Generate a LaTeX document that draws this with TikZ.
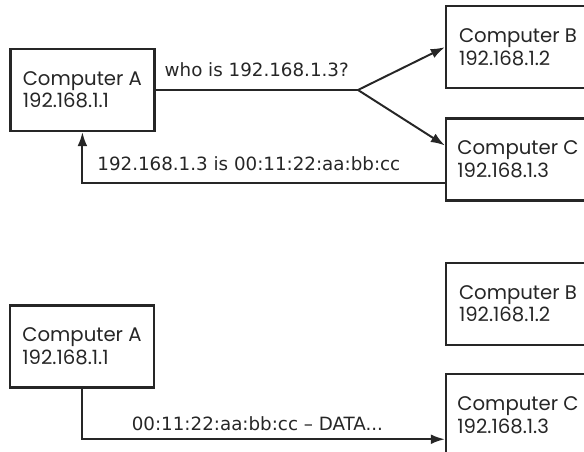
\documentclass[tikz,border=0pt]{standalone}
\usepackage{fontspec}
\setmainfont{Poppins}
\newfontfamily\msgfont{DejaVu Sans}
\usetikzlibrary{positioning,arrows.meta}

\tikzset{
  host/.style={draw=black!85, line width=1.6pt, minimum width=3.6cm, minimum height=2.05cm,
    align=left, text=black!85, font=\fontsize{14}{16}\selectfont},
  wire/.style={draw=black!85, line width=1.4pt},
  arrow/.style={wire, -{Latex[length=10pt,width=7pt]}},
  msg/.style={inner sep=0pt, text=black!85, font=\msgfont\fontsize{13}{15}\selectfont}
}

\begin{document}
\begin{tikzpicture}
\useasboundingbox (0,0) rectangle (14.6,-11.3);

% Request and reply
\node[host] (a1) at (2.06,-2.25) {Computer A\\192.168.1.1};
\node[host] (b1) at (12.95,-1.18) {Computer B\\192.168.1.2};
\node[host,below=0.7cm of b1] (c1) {Computer C\\192.168.1.3};
\coordinate (fork) at (8.95,-2.25);

\draw[wire] (a1) -- node[msg,above=9pt] (ask) {who is 192.168.1.3?} (fork);
\draw[arrow] (fork) -- (b1.west);
\draw[arrow] (fork) -- ([yshift=0.35cm]c1.west);
\draw[arrow] ([yshift=-0.58cm]c1.west) -| node[msg,pos=0.5,anchor=south west,xshift=0.35cm,yshift=7.8pt] (reply) {192.168.1.3 is 00:11:22:aa:bb:cc} (a1.south);

% Sending the data
\node[host] (a2) at (2.05,-8.66) {Computer A\\192.168.1.1};
\node[host] (b2) at (12.95,-7.6) {Computer B\\192.168.1.2};
\node[host,below=0.675cm of b2] (c2) {Computer C\\192.168.1.3};

\draw[arrow] (a2.south) |- node[msg,pos=0.75,above=5pt,xshift=-0.15cm] (data) {00:11:22:aa:bb:cc – DATA...} ([yshift=-0.6cm]c2.west);

\end{tikzpicture}
\end{document}
